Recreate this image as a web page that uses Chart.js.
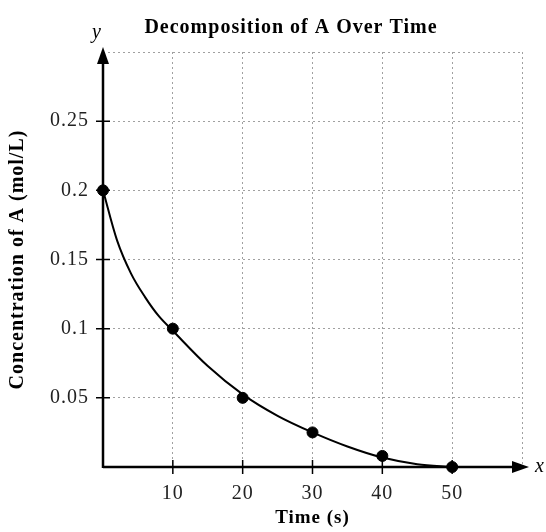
<!DOCTYPE html>
<html>
<head>
<meta charset="utf-8">
<script src="https://cdn.jsdelivr.net/npm/chart.js@4"></script>
<style>
  html, body { margin: 0; background: #fff; }
  #wrap { width: 546px; height: 532px; }
</style>
</head>
<body>
<div id="wrap"><canvas id="chart"></canvas></div>
<script>
// measured points
const times = [0, 10, 20, 30, 40, 50];
const concentrations = [0.2, 0.1, 0.05, 0.025, 0.008, 0];
// smooth decay curve
const curveTimes = [0, 2, 4, 6, 8, 10, 15, 20, 25, 30, 35, 40, 45, 50];
const curveValues = [0.2, 0.164, 0.14, 0.123, 0.109, 0.0985, 0.073, 0.0525, 0.037, 0.025, 0.0148, 0.0068, 0.002, 0];
const xMax = 60, xStep = 10;
const yMax = 0.3, yStep = 0.05;
const chartTitle = 'Decomposition of A Over Time';
const serif = '"Liberation Serif", "DejaVu Serif", serif';

// the reference type is set a little wider than Liberation Serif
const wideText = {
  id: 'wideText',
  beforeDraw(chart) { chart.ctx.letterSpacing = '1px'; }
};

const titleText = {
  id: 'titleText',
  afterDraw(chart) {
    const { ctx } = chart;
    ctx.save();
    ctx.font = 'bold 20px ' + serif;
    ctx.fillStyle = '#000';
    ctx.textAlign = 'center';
    ctx.textBaseline = 'middle';
    ctx.fillText(chartTitle, 291, 28);
    ctx.restore();
  }
};

// axis lines with arrowheads, crossing tick marks and the x / y letters
const axesArrows = {
  id: 'axesArrows',
  beforeDatasetsDraw(chart) {
    const { ctx, scales: { x, y } } = chart;
    const x0 = x.getPixelForValue(0), y0 = y.getPixelForValue(0);
    const xTip = x.getPixelForValue(xMax) + 7;
    const yTip = y.getPixelForValue(yMax) - 5;
    ctx.save();
    ctx.strokeStyle = '#000';
    ctx.fillStyle = '#000';
    ctx.lineWidth = 2.5;
    ctx.beginPath();
    ctx.moveTo(x0, y0); ctx.lineTo(xTip - 10, y0);
    ctx.moveTo(x0, y0 + 1); ctx.lineTo(x0, yTip + 10);
    ctx.stroke();

    ctx.beginPath();
    ctx.moveTo(xTip, y0); ctx.lineTo(xTip - 17, y0 - 6); ctx.lineTo(xTip - 17, y0 + 6);
    ctx.closePath(); ctx.fill();
    ctx.beginPath();
    ctx.moveTo(x0, yTip); ctx.lineTo(x0 - 6, yTip + 17); ctx.lineTo(x0 + 6, yTip + 17);
    ctx.closePath(); ctx.fill();

    ctx.lineWidth = 1.5;
    ctx.beginPath();
    x.ticks.forEach(t => {
      if (t.value <= 0 || t.value >= xMax) return;
      const px = x.getPixelForValue(t.value);
      ctx.moveTo(px, y0 - 7); ctx.lineTo(px, y0 + 7);
    });
    y.ticks.forEach(t => {
      if (t.value <= 1e-6 || t.value >= yMax - 1e-6) return;
      const py = y.getPixelForValue(t.value);
      ctx.moveTo(x0 - 7, py); ctx.lineTo(x0 + 7, py);
    });
    ctx.stroke();

    ctx.font = 'italic 20px ' + serif;
    ctx.textAlign = 'center';
    ctx.textBaseline = 'middle';
    ctx.fillText('x', xTip + 11, y0);
    ctx.fillText('y', x0 - 6, yTip - 14);
    ctx.restore();
  }
};

const gridColor = (ctx) => (Math.abs(ctx.tick.value) < 1e-6 ? 'rgba(0,0,0,0)' : '#a0a0a0');

new Chart(document.getElementById('chart'), {
  type: 'scatter',
  data: {
    datasets: [{
      data: times.map((t, i) => ({ x: t, y: concentrations[i] })),
      borderColor: '#000',
      backgroundColor: '#000',
      pointRadius: 5.5,
      pointHoverRadius: 5.5,
      clip: false
    }, {
      data: curveTimes.map((t, i) => ({ x: t, y: curveValues[i] })),
      showLine: true,
      cubicInterpolationMode: 'monotone',
      borderColor: '#000',
      borderWidth: 2,
      pointRadius: 0,
      pointHoverRadius: 0,
      clip: false
    }]
  },
  options: {
    responsive: true,
    maintainAspectRatio: false,
    animation: false,
    layout: { padding: { left: 0, right: 24, top: 52, bottom: 0 } },
    plugins: {
      legend: { display: false },
      tooltip: { enabled: false },
      title: { display: false }
    },
    scales: {
      x: {
        type: 'linear',
        min: 0,
        max: xMax,
        afterFit: (s) => { s.height = 65; },
        border: { display: false, dash: [2, 3] },
        grid: { color: gridColor, drawTicks: false },
        ticks: {
          stepSize: xStep,
          padding: 15,
          color: '#222',
          font: { family: serif, size: 20 },
          callback: (v) => (v === 0 || v === xMax ? '' : v)
        },
        title: {
          display: true,
          text: 'Time (s)',
          color: '#000',
          font: { family: serif, size: 19, weight: 'bold' },
          padding: { top: 0, bottom: 3 }
        }
      },
      y: {
        type: 'linear',
        min: 0,
        max: yMax,
        afterFit: (s) => { s.width = 103; },
        border: { display: false, dash: [2, 3] },
        grid: { color: gridColor, drawTicks: false },
        ticks: {
          stepSize: yStep,
          padding: 14,
          color: '#222',
          font: { family: serif, size: 20 },
          callback: (v) => (v < 1e-6 || v > yMax - 1e-6 ? '' : +v.toFixed(2))
        },
        title: {
          display: true,
          text: 'Concentration of A (mol/L)',
          color: '#000',
          font: { family: serif, size: 20, weight: 'bold' },
          padding: { top: 6, bottom: 0 }
        }
      }
    }
  },
  plugins: [wideText, axesArrows, titleText]
});
</script>
</body>
</html>
